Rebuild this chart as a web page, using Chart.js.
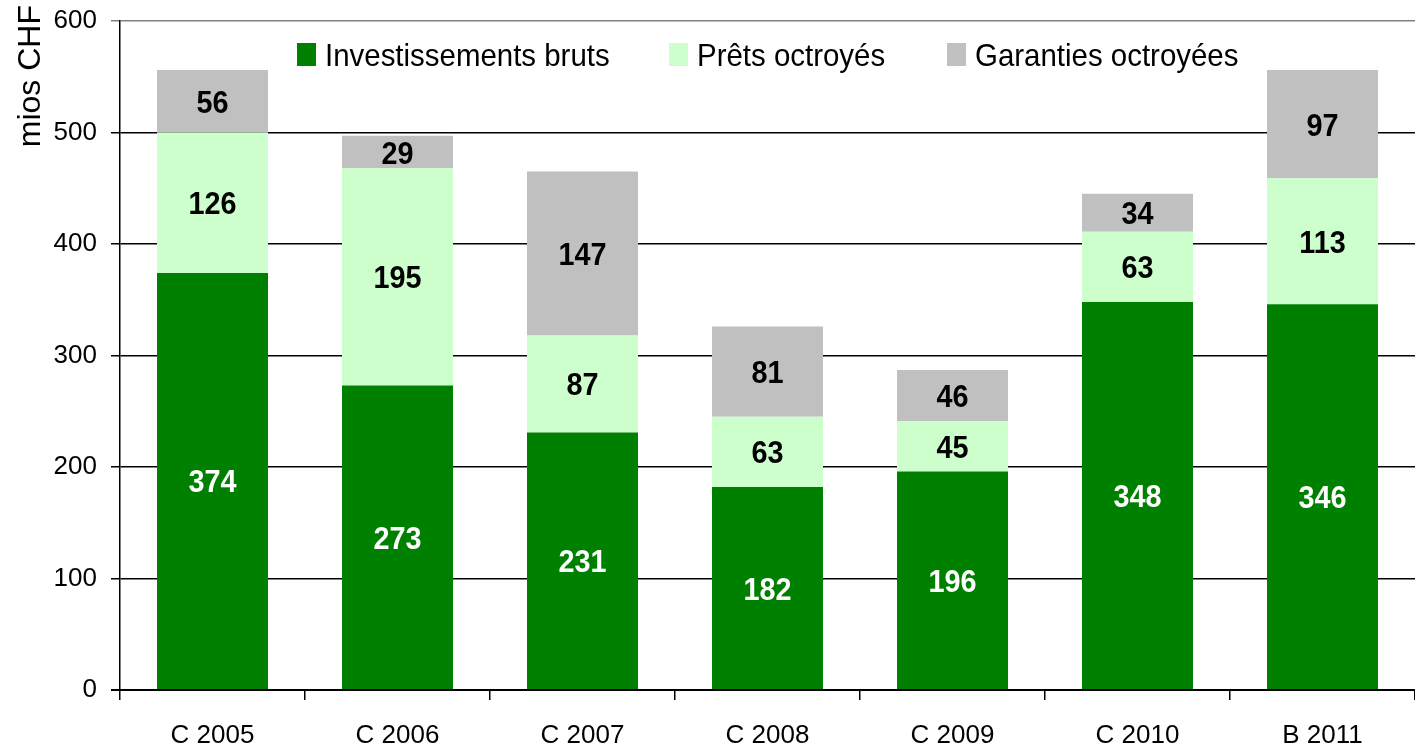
<!DOCTYPE html>
<html><head><meta charset="utf-8">
<script src="https://cdn.jsdelivr.net/npm/chart.js@4"></script>
<style>html,body{margin:0;padding:0;background:#fff}#w{width:1415px;height:747px}</style>
</head><body><div id="w"><canvas id="c" width="1415" height="747"></canvas></div>
<script>
const categories = ["C 2005","C 2006","C 2007","C 2008","C 2009","C 2010","B 2011"];
const investissements = [374,273,231,182,196,348,346];
const prets = [126,195,87,63,45,63,113];
const garanties = [56,29,147,81,46,34,97];
const seriesNames = ["Investissements bruts","Prêts octroyés","Garanties octroyées"];
const seriesColors = ["#008000","#CCFFCC","#C0C0C0"];
const labelColors = ["#FFFFFF","#000000","#000000"];
const yTicks = [0,100,200,300,400,500,600];
const yTitle = "mios CHF";
const FONT = "'Liberation Sans', Arial, sans-serif";

function scaledText(ctx, text, x, y, sx, align){
  ctx.save();
  ctx.translate(x, y);
  ctx.scale(sx, 1);
  ctx.textAlign = align;
  ctx.fillText(text, 0, 0);
  ctx.restore();
}

const labelPlugin = {
  id:'labels',
  afterDatasetsDraw(chart){
    const ctx = chart.ctx;
    ctx.save();
    ctx.font = "bold 32px " + FONT;
    ctx.textBaseline = 'alphabetic';
    chart.data.datasets.forEach((ds,i)=>{
      const meta = chart.getDatasetMeta(i);
      meta.data.forEach((el,j)=>{
        ctx.fillStyle = labelColors[i];
        scaledText(ctx, String(ds.data[j]), el.x, (el.y+el.base)/2 + 11.5, 0.9, 'center');
      });
    });
    ctx.restore();
  }
};
const extrasPlugin = {
  id:'extras',
  afterDraw(chart){
    const ctx = chart.ctx;
    ctx.save();
    ctx.font = "32px " + FONT;
    ctx.fillStyle = '#000';
    ctx.translate(31, 5);
    ctx.rotate(-Math.PI/2);
    ctx.textAlign = 'right'; ctx.textBaseline = 'middle';
    ctx.fillText(yTitle, 0, 0);
    ctx.restore();
    ctx.save();
    ctx.font = "32px " + FONT;
    ctx.textBaseline = 'alphabetic';
    const xs = [297, 669, 947];
    seriesNames.forEach((n,i)=>{
      ctx.fillStyle = seriesColors[i];
      ctx.fillRect(xs[i], 43, 19, 23);
      ctx.fillStyle = '#000';
      scaledText(ctx, n, xs[i]+28, 66, 0.92, 'left');
    });
    ctx.restore();
  }
};

new Chart(document.getElementById('c'), {
  type:'bar',
  data:{
    labels: categories,
    datasets:[
      {label:seriesNames[0], data:investissements, backgroundColor:seriesColors[0]},
      {label:seriesNames[1], data:prets, backgroundColor:seriesColors[1]},
      {label:seriesNames[2], data:garanties, backgroundColor:seriesColors[2]}
    ]
  },
  options:{
    responsive:false, animation:false,
    layout:{padding:{top:21,right:0,left:0,bottom:0}},
    plugins:{legend:{display:false}, tooltip:{enabled:false}},
    datasets:{bar:{categoryPercentage:1, barPercentage:0.6, borderWidth:0}},
    scales:{
      x:{
        stacked:true,
        grid:{drawOnChartArea:false, drawTicks:true, tickLength:10, color:'#000', lineWidth:1.5, offset:true},
        border:{color:'#000', width:2},
        ticks:{color:'#000', font:{family:FONT, size:26}, padding:20, maxRotation:0},
        afterFit(s){ s.height = 57; s.paddingLeft = 0; s.paddingRight = 0; }
      },
      y:{
        stacked:true, min:0, max:600,
        afterBuildTicks(s){ s.ticks = yTicks.map(v=>({value:v})); },
        grid:{
          color:(c)=> c.tick && c.tick.value===600 ? '#808080' : '#000',
          lineWidth:(c)=> c.tick && c.tick.value===0 ? 2 : 1.5,
          tickLength:9
        },
        border:{color:'#000', width:1.5},
        ticks:{color:'#000', font:{family:FONT, size:26}, padding:14},
        afterFit(s){ s.width = 120; s.paddingTop = 0; s.paddingBottom = 0; }
      }
    }
  },
  plugins:[labelPlugin, extrasPlugin]
});
</script>
</body></html>
